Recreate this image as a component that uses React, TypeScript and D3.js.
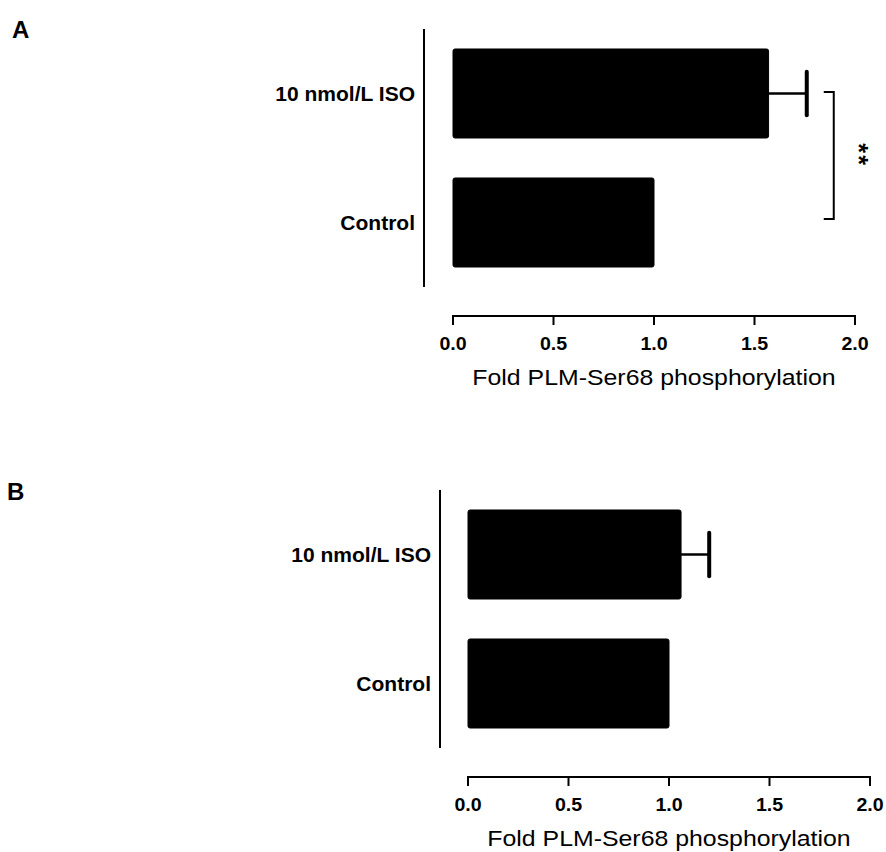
import React from "react";
import * as d3 from "d3";

const categories = ["10 nmol/L ISO", "Control"];
const panelAValues = [1.57, 1.0];
const panelAErrors = [0.19, 0];
const panelBValues = [1.06, 1.0];
const panelBErrors = [0.14, 0];
const xTicks = [0, 0.5, 1.0, 1.5, 2.0];
const xDomain = [0, 2];
const xTitle = "Fold PLM-Ser68 phosphorylation";
const panelLabels = ["A", "B"];
const sigMarks = ["*", "*"];

const FONT = "'Liberation Sans', Arial, Helvetica, sans-serif";

type PanelProps = {
  values: number[];
  errors: number[];
  yAxisX: number;
  xStart: number;
  xEnd: number;
  yTop: number;
  yBottom: number;
  xAxisY: number;
  labelRight: number;
  sig?: boolean;
};

function Panel({ values, errors, yAxisX, xStart, xEnd, yTop, yBottom, xAxisY, labelRight, sig }: PanelProps) {
  const x = d3.scaleLinear().domain(xDomain).range([xStart, xEnd]);
  const y = d3
    .scaleBand<string>()
    .domain(categories)
    .range([yTop, yBottom])
    .paddingInner(0.31)
    .paddingOuter(0.155);
  const bw = y.bandwidth();
  const capH = bw * 0.49;
  const mid = (xStart + xEnd) / 2;

  const iso = categories[0];
  const ctl = categories[1];
  const isoCenter = (y(iso) as number) + bw / 2;
  const ctlCenter = (y(ctl) as number) + bw / 2;
  const bracketX = x(values[0] + errors[0]) + 27;
  const sigCenter = (isoCenter + ctlCenter) / 2 - 4;

  return (
    <g>
      {/* y axis */}
      <line x1={yAxisX} x2={yAxisX} y1={yTop} y2={yBottom} stroke="#000" strokeWidth={2} />
      {categories.map((c) => (
        <text
          key={c}
          x={labelRight}
          y={(y(c) as number) + bw / 2}
          dy="0.36em"
          textAnchor="end"
          fontFamily={FONT}
          fontWeight="bold"
          fontSize={21}
          fill="#000"
        >
          {c}
        </text>
      ))}
      {/* bars */}
      {categories.map((c, i) => (
        <rect
          key={c}
          x={x(0)}
          y={y(c) as number}
          width={x(values[i]) - x(0)}
          height={bw}
          rx={2}
          fill="#000"
          stroke="#000"
          strokeWidth={1}
        />
      ))}
      {/* error bars */}
      {categories.map((c, i) =>
        errors[i] > 0 ? (
          <g key={c}>
            <line
              x1={x(values[i])}
              x2={x(values[i] + errors[i])}
              y1={(y(c) as number) + bw / 2}
              y2={(y(c) as number) + bw / 2}
              stroke="#000"
              strokeWidth={2.5}
            />
            <line
              x1={x(values[i] + errors[i])}
              x2={x(values[i] + errors[i])}
              y1={(y(c) as number) + bw / 2 - capH / 2}
              y2={(y(c) as number) + bw / 2 + capH / 2}
              stroke="#000"
              strokeWidth={4}
              strokeLinecap="round"
            />
          </g>
        ) : null
      )}
      {sig && (
        <g>
          <path
            d={`M${bracketX - 10},${isoCenter - 1.5}H${bracketX}V${ctlCenter - 3.5}H${bracketX - 10}`}
            fill="none"
            stroke="#000"
            strokeWidth={2}
          />
          {sigMarks.map((m, k) => (
            <text
              key={k}
              transform={`translate(${bracketX + 21},${sigCenter + (k - 0.5) * 12}) rotate(90)`}
              textAnchor="middle"
              dy="0.2em"
              fontFamily={FONT}
              fontWeight="bold"
              fontSize={25}
              fill="#000"
            >
              {m}
            </text>
          ))}
        </g>
      )}
      {/* x axis */}
      <line x1={xStart} x2={xEnd} y1={xAxisY} y2={xAxisY} stroke="#000" strokeWidth={2} strokeLinecap="square" />
      {xTicks.map((t) => (
        <g key={t}>
          <line x1={x(t)} x2={x(t)} y1={xAxisY} y2={xAxisY + 9} stroke="#000" strokeWidth={2} />
          <text
            transform={`translate(${x(t)},${xAxisY + 34}) scale(1.12,1)`}
            textAnchor="middle"
            fontFamily={FONT}
            fontWeight="bold"
            fontSize={17.5}
            fill="#000"
          >
            {d3.format(".1f")(t)}
          </text>
        </g>
      ))}
      <text
        transform={`translate(${mid},${xAxisY + 69}) scale(1.13,1)`}
        textAnchor="middle"
        fontFamily={FONT}
        fontSize={22}
        fill="#000"
      >
        {xTitle}
      </text>
    </g>
  );
}

export default function App() {
  return (
    <svg width={886} height={852} style={{ position: "absolute", left: 0, top: 0, background: "#fff" }}>
      <rect width={886} height={852} fill="#fff" />
      <text x={12} y={38} fontFamily={FONT} fontWeight="bold" fontSize={24} fill="#000">
        {panelLabels[0]}
      </text>
      <text x={7} y={500} fontFamily={FONT} fontWeight="bold" fontSize={24} fill="#000">
        {panelLabels[1]}
      </text>
      <Panel
        values={panelAValues}
        errors={panelAErrors}
        yAxisX={424}
        xStart={453}
        xEnd={855}
        yTop={29}
        yBottom={287}
        xAxisY={316}
        labelRight={415}
        sig
      />
      <Panel
        values={panelBValues}
        errors={panelBErrors}
        yAxisX={440}
        xStart={468}
        xEnd={870}
        yTop={490}
        yBottom={748}
        xAxisY={777}
        labelRight={431}
      />
    </svg>
  );
}
